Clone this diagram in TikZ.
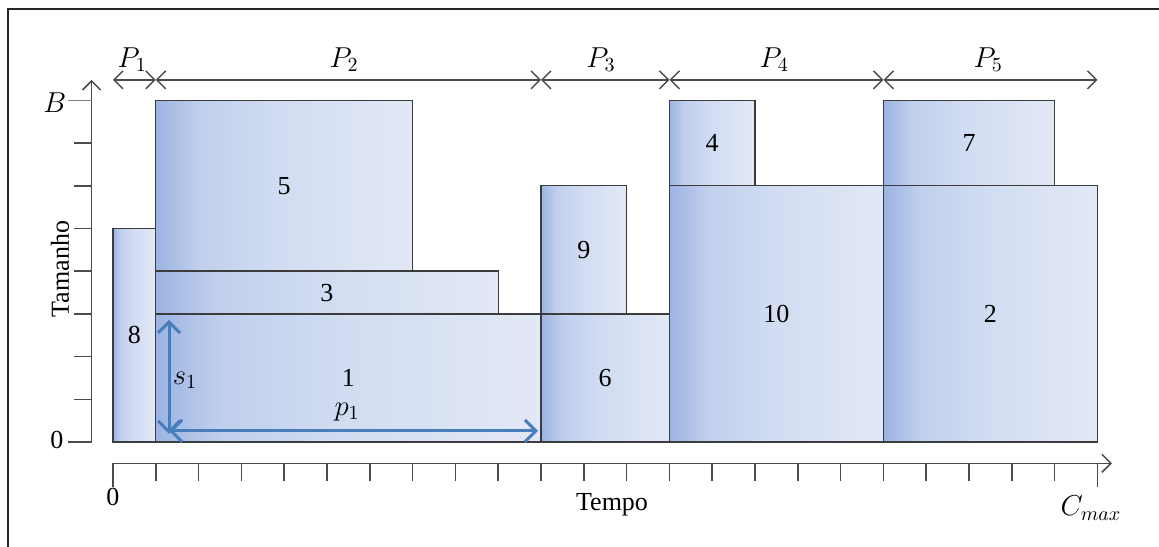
\documentclass[tikz,border=0pt]{standalone}
\usepackage{fontspec}
\setmainfont{Liberation Serif}
\usetikzlibrary{arrows.meta}
\definecolor{c0}{RGB}{156,180,227}
\definecolor{c1}{RGB}{192,207,236}
\definecolor{c2}{RGB}{210,221,242}
\definecolor{c3}{RGB}{226,232,245}
\definecolor{boxline}{RGB}{60,60,60}
\definecolor{axisgray}{RGB}{75,75,75}
\definecolor{dimblue}{RGB}{74,126,187}
\pgfdeclarehorizontalshading{boxshade}{100bp}{color(0bp)=(c0); color(25bp)=(c0); color(33.5bp)=(c1); color(50bp)=(c2); color(75bp)=(c3); color(100bp)=(c3)}
\begin{document}
\begin{tikzpicture}[x=21.4pt,y=21.35pt,
  every node/.style={font=\fontsize{13}{15}\selectfont, inner sep=0pt},
  mathlabel/.style={font=\fontsize{14.5}{17}\selectfont},
  job/.style={draw=boxline, line width=0.7pt, shading=boxshade},
  axisline/.style={draw=axisgray, line width=0.75pt},
  tickline/.style={draw=axisgray, line width=0.75pt},
  periodarrow/.style={draw=axisgray, line width=0.7pt, {Straight Barb[length=4.5pt,width=9pt]}-{Straight Barb[length=4.5pt,width=9pt]}},
  dimarrow/.style={draw=dimblue, line width=1.5pt, {Straight Barb[length=5.5pt,width=11pt]}-{Straight Barb[length=5.5pt,width=11pt]}}]
\useasboundingbox (-2.640,-2.459) rectangle (24.439,10.351);
% frame
\draw[line width=1pt, black!85] (-2.453,-2.46) -- (-2.453,10.14) -- (24.44,10.14);

% jobs
\path[job] (0,0) rectangle (1,5);
\path[job] (1,0) rectangle (10,3);
\path[job] (1,3) rectangle (9,4);
\path[job] (1,4) rectangle (7,8);
\path[job] (10,0) rectangle (13,3);
\path[job] (10,3) rectangle (12,6);
\path[job] (13,0) rectangle (18,6);
\path[job] (13,6) rectangle (15,8);
\path[job] (18,0) rectangle (23,6);
\path[job] (18,6) rectangle (22,8);
\node (j8) at (0.5,2.5) {8};
\node (j1) at (5.5,1.5) {1};
\node (j3) at (5,3.5) {3};
\node (j5) at (4,6) {5};
\node (j6) at (11.5,1.5) {6};
\node (j9) at (11,4.5) {9};
\node (j10) at (15.5,3) {10};
\node (j4) at (14,7) {4};
\node (j2) at (20.5,3) {2};
\node (j7) at (20,7) {7};

% dimension arrows of job 1
\coordinate (s1a) at (1.31,0.19);
\coordinate (s1b) at (1.31,2.86);
\coordinate (p1a) at (1.31,0.26);
\coordinate (p1b) at (9.93,0.26);
\draw[dimarrow] (s1a) -- (s1b);
\draw[dimarrow] (p1a) -- (p1b);
\node[mathlabel] (s1) at (1.68,1.45) {$s_1$};
\node[mathlabel] (p1) at (5.47,0.70) {$p_1$};

% y axis
\coordinate (yo) at (-0.5,0);
\coordinate (ytop) at (-0.5,8.48);
\draw[axisline, -{Straight Barb[length=4.5pt,width=9pt]}] (yo) -- (ytop);
\foreach \k in {1,...,7} \draw[tickline] (-0.91,\k) -- (-0.5,\k);
\draw[tickline] (-1.04,0) -- (-0.5,0);
\draw[draw=gray, line width=0.5pt] (-1.06,8) -- (-0.5,8);
\node (y0) at (-1.31,0.05) {0};
\node[mathlabel] (yB) at (-1.36,7.94) {$B$};
\node[rotate=90] (tam) at (-1.24,4.05) {Tamanho};

% x axis
\coordinate (xo) at (0,-0.5);
\coordinate (xend) at (23.34,-0.5);
\draw[axisline, -{Straight Barb[length=4.5pt,width=9pt]}] (xo) -- (xend);
\foreach \k in {1,...,22} \draw[tickline] (\k,-0.5) -- (\k,-0.91);
\draw[tickline] (0,-0.5) -- (0,-1.05);
\draw[tickline] (23,-0.5) -- (23,-1.05);
\node (x0) at (0,-1.29) {0};
\node (tempo) at (11.66,-1.48) {Tempo};
\node[mathlabel] (cmax) at (22.85,-1.55) {$C_{max}$};

% periods
\coordinate (t0) at (0,8.48);
\coordinate (t1) at (1,8.48);
\coordinate (t2) at (10,8.48);
\coordinate (t3) at (13,8.48);
\coordinate (t4) at (18,8.48);
\coordinate (t5) at (23,8.48);
\draw[periodarrow] (t0) -- (t1);
\draw[periodarrow] (t1) -- (t2);
\draw[periodarrow] (t2) -- (t3);
\draw[periodarrow] (t3) -- (t4);
\draw[periodarrow] (t4) -- (t5);
\node[mathlabel] (P1) at (0.45,8.95) {$P_1$};
\node[mathlabel] (P2) at (5.4,8.95) {$P_2$};
\node[mathlabel] (P3) at (11.4,8.95) {$P_3$};
\node[mathlabel] (P4) at (15.45,8.95) {$P_4$};
\node[mathlabel] (P5) at (20.45,8.95) {$P_5$};
\end{tikzpicture}
\end{document}
